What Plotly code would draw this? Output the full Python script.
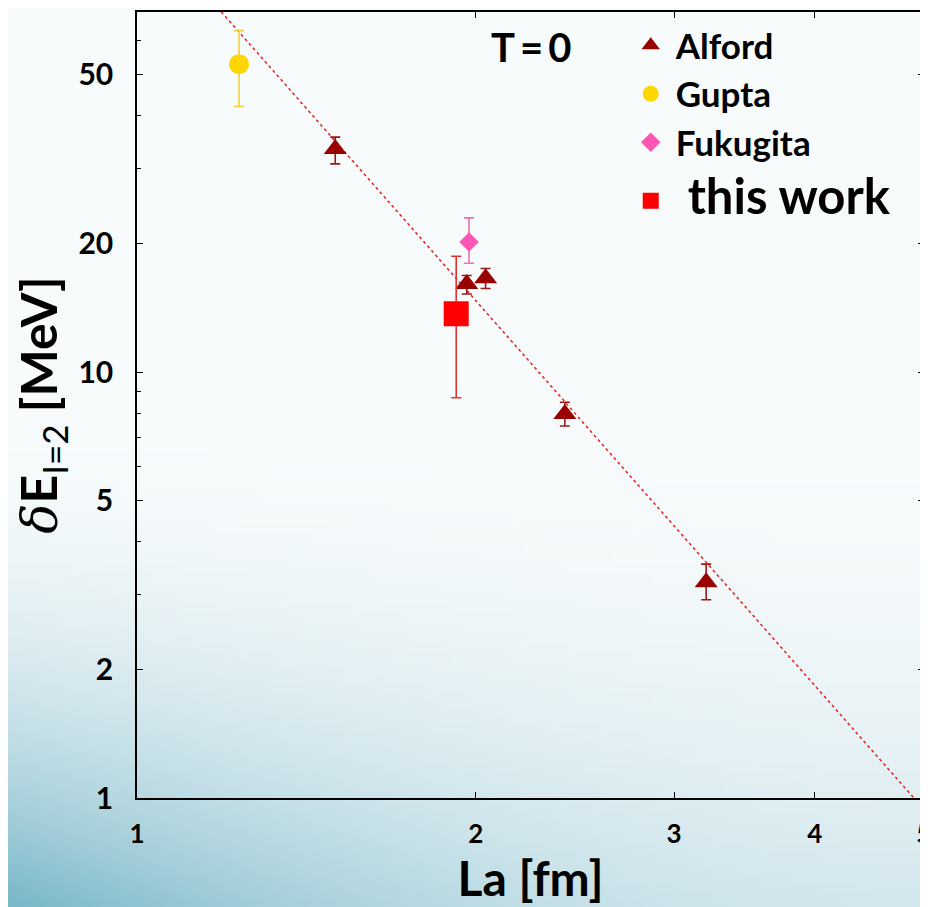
import base64
import struct
import zlib

import plotly.graph_objects as go

# ---------------- data ----------------
alford_L = [1.50, 1.963, 2.040, 2.399, 3.203]
alford_E = [33.4, 16.1, 16.6, 7.97, 3.21]
alford_err_plus = [2.2, 0.75, 0.9, 0.52, 0.33]
alford_err_minus = [2.6, 0.85, 0.9, 0.50, 0.29]

gupta_L = [1.232]
gupta_E = [52.8]
gupta_err_plus = [10.5]
gupta_err_minus = [10.8]

fukugita_L = [1.972]
fukugita_E = [20.2]
fukugita_err_plus = [2.8]
fukugita_err_minus = [2.2]

thiswork_L = [1.921]
thiswork_E = [13.7]
thiswork_err = [5.0]

fit_L = [1.15, 5.0]
fit_E = [77.3, 0.94]

x_tickvals = [1, 2, 3, 4, 5]
x_ticktext = ["1", "2", "3", "4", "5"]
y_tickvals = [1, 2, 5, 10, 20, 50]
y_ticktext = ["1", "2", "5", "10", "20", "50"]
y_minor = [3, 4, 6, 7, 8, 9, 30, 40, 60, 70]


# ---------------- background gradient (decoration) ----------------
def gradient_png(w, h):
    white = (248, 251, 252)
    teal = (122, 184, 201)
    rows = []
    for j in range(h):
        u = j / (h - 1)
        row = bytearray([0])
        for i in range(w):
            v = i / (w - 1)
            a = max(0.0, (u - 0.45) / 0.55) ** 2
            f = 0.3 + 0.7 * (1 - v) ** 2
            t = min(1.0, a * f)
            for c in range(3):
                row.append(int(round(white[c] * (1 - t) + teal[c] * t)))
        rows.append(bytes(row))
    raw = b"".join(rows)

    def chunk(tag, data):
        c = struct.pack(">I", len(data)) + tag + data
        return c + struct.pack(">I", zlib.crc32(tag + data) & 0xFFFFFFFF)

    png = b"\x89PNG\r\n\x1a\n"
    png += chunk(b"IHDR", struct.pack(">IIBBBBB", w, h, 8, 2, 0, 0, 0))
    png += chunk(b"IDAT", zlib.compress(raw, 9))
    png += chunk(b"IEND", b"")
    return "data:image/png;base64," + base64.b64encode(png).decode()


bg = gradient_png(92, 90)

FONT = "Lato"
W, H = 920, 899
ML, MR, MT, MB = 129, 4, 4, 109
PW, PH = W - ML - MR, H - MT - MB  # plot area size in px

fig = go.Figure()

fig.add_trace(go.Scatter(
    x=fit_L, y=fit_E, mode="lines",
    line=dict(color="#e52020", width=1.5, dash="dot"),
    showlegend=False, hoverinfo="skip",
))

fig.add_trace(go.Scatter(
    x=alford_L, y=alford_E, mode="markers", name="Alford", legendgroup="a",
    marker=dict(symbol="triangle-up", size=20, color="#990000"),
    error_y=dict(type="data", array=alford_err_plus, arrayminus=alford_err_minus,
                 color="#9a1a1a", thickness=1.6, width=5),
))
fig.add_trace(go.Scatter(
    x=gupta_L, y=gupta_E, mode="markers", name="Gupta", legendgroup="a",
    marker=dict(symbol="circle", size=20, color="#ffd700"),
    error_y=dict(type="data", array=gupta_err_plus, arrayminus=gupta_err_minus,
                 color="#f0d040", thickness=1.6, width=5),
))
fig.add_trace(go.Scatter(
    x=fukugita_L, y=fukugita_E, mode="markers", name="Fukugita", legendgroup="a",
    marker=dict(symbol="diamond", size=15, color="#ff55b5"),
    error_y=dict(type="data", array=fukugita_err_plus, arrayminus=fukugita_err_minus,
                 color="#f070b0", thickness=1.6, width=5),
))
fig.add_trace(go.Scatter(
    x=thiswork_L, y=thiswork_E, mode="markers", legendgroup="b",
    name='<span style="font-size:49px">\u00a0this work</span>',
    marker=dict(symbol="square", size=25, color="#ff0000"),
    error_y=dict(type="data", array=thiswork_err,
                 color="#e83030", thickness=1.6, width=5),
))

fig.update_layout(
    width=W, height=H,
    margin=dict(l=ML, r=MR, t=MT, b=MB, autoexpand=False),
    paper_bgcolor="#f8fbfc",
    plot_bgcolor="rgba(0,0,0,0)",
    images=[dict(source=bg, xref="paper", yref="paper", x=-ML / PW, y=1 + MT / PH,
                 sizex=W / PW, sizey=H / PH, xanchor="left", yanchor="top",
                 sizing="stretch", layer="below")],
    font=dict(family=FONT, color="black"),
    legend=dict(x=0.621, y=1 - 4 / PH, xanchor="left", yanchor="top",
                bgcolor="rgba(0,0,0,0)", itemwidth=40, traceorder="grouped",
                font=dict(family=FONT, size=35, weight=700), tracegroupgap=10),
    annotations=[dict(text="T\u2009=\u20090", xref="paper", yref="paper",
                      x=(531 - 137) / PW, y=(798 - 47) / PH,
                      xanchor="center", yanchor="middle",
                      showarrow=False, font=dict(family=FONT, size=40, weight=700))],
)

fig.update_xaxes(
    type="log", range=[0, 0.69905], automargin=False,
    tickvals=x_tickvals, ticktext=x_ticktext,
    ticks="inside", ticklen=6, tickwidth=1, tickcolor="black",
    showline=True, linecolor="black", linewidth=1.5, mirror="ticks",
    showgrid=False, zeroline=False,
    tickfont=dict(family=FONT, size=26, weight=700),
    ticklabelstandoff=12, ticklabeloverflow="allow",
    title=dict(text="La [fm]", font=dict(family=FONT, size=48, weight=700), standoff=6),
)
fig.update_yaxes(
    type="log", range=[0, 1.8451], automargin=False,
    tickvals=y_tickvals, ticktext=y_ticktext,
    ticks="inside", ticklen=6, tickwidth=1, tickcolor="black",
    minor=dict(tickvals=y_minor, ticks="inside", ticklen=4, tickcolor="black"),
    showline=True, linecolor="black", linewidth=1.5, mirror="ticks",
    showgrid=False, zeroline=False,
    tickfont=dict(family=FONT, size=30, weight=700),
    ticklabelstandoff=16,
    title=dict(text='<i style="font-family:DejaVu Serif;font-weight:normal">δ</i>E<sub><span style="font-weight:normal">I=2</span></sub> [MeV]',
               font=dict(family=FONT, size=50, weight=700), standoff=10),
)

fig.write_html("out.html")
